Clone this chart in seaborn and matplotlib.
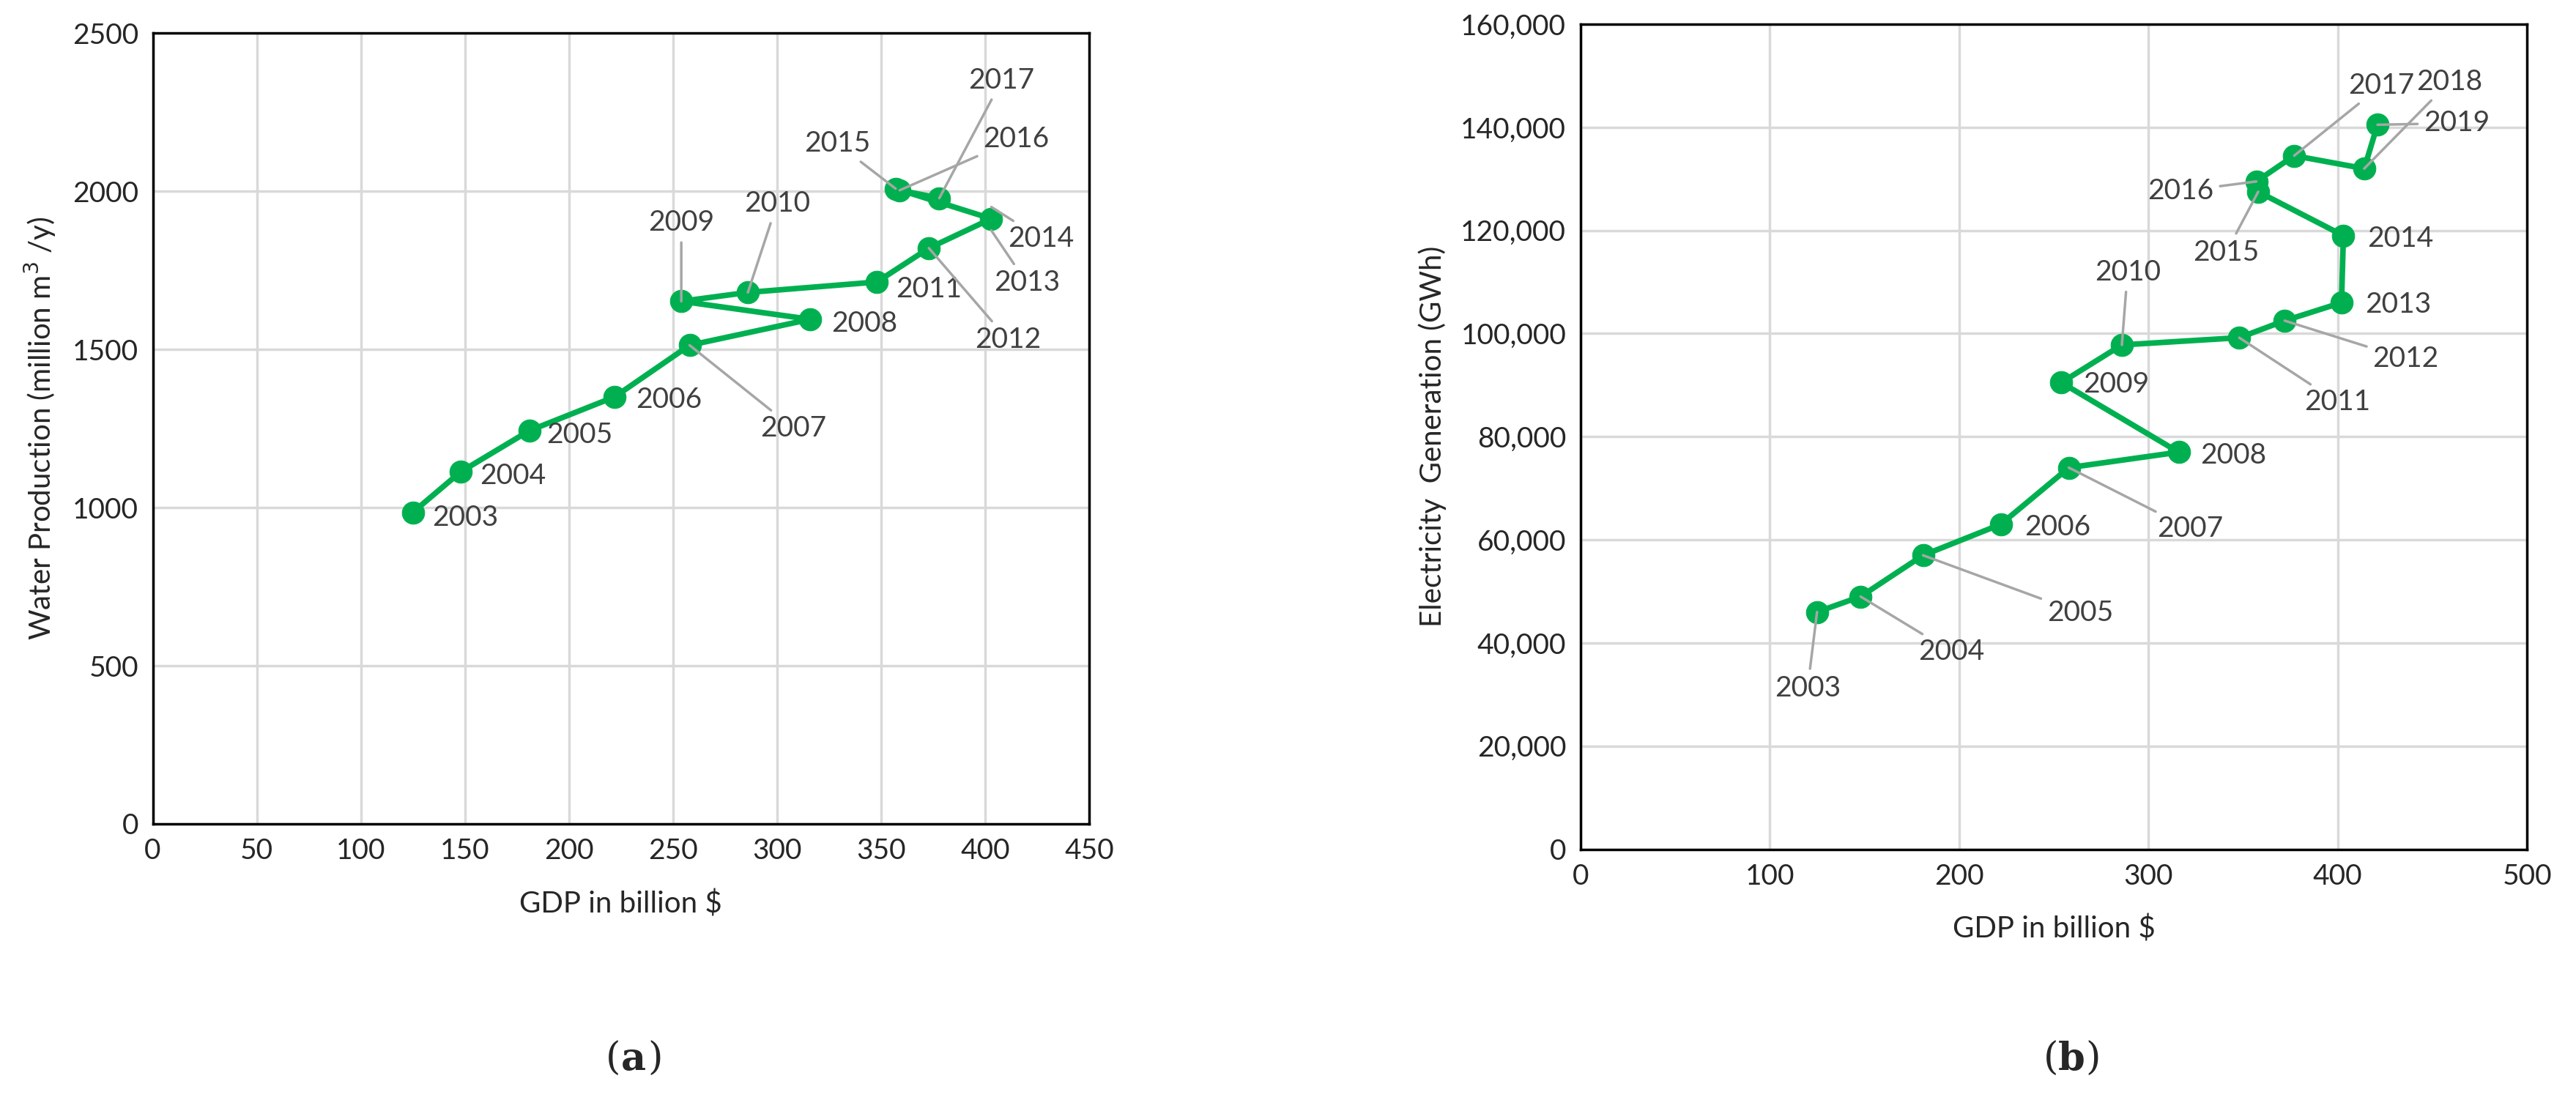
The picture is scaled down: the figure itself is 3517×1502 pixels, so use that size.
import matplotlib
matplotlib.use('Agg')
import seaborn as sns
import matplotlib.pyplot as plt
from matplotlib.ticker import FuncFormatter

sns.set_style('white')
plt.rcParams['font.family'] = ['Lato', 'DejaVu Sans']

GREEN = '#00B050'
LEADER = '#A6A6A6'

# panel (a): water production vs GDP
years_a = list(range(2003, 2018))
gdp_a = [125, 148, 181, 222, 258, 316, 254, 286, 348, 373, 403, 403, 357, 359, 378]
water = [985, 1113, 1243, 1350, 1513, 1595, 1652, 1680, 1713, 1820, 1876, 1950, 2008, 2003, 1978]
# label text positions (data coords) and whether a leader line is drawn
lab_a = [(150, 967, 0), (173, 1100, 0), (205, 1230, 0), (248, 1340, 0), (308, 1250, 1),
         (342, 1580, 0), (254, 1900, 1), (300, 1960, 1), (373, 1690, 0), (411, 1530, 1),
         (420, 1710, 1), (427, 1850, 1), (329, 2150, 1), (415, 2165, 1), (408, 2350, 1)]

# panel (b): electricity generation vs GDP
years_b = list(range(2003, 2020))
gdp_b = [125, 148, 181, 222, 258, 316, 254, 286, 348, 372, 402, 403, 358, 357, 377, 414, 421]
elec = [46000, 49000, 57000, 63000, 74000, 77000, 90500, 97800, 99200, 102500, 106000,
        119000, 127500, 129500, 134500, 132000, 140500]
lab_b = [(120, 31200, 1), (196, 38300, 1), (264, 45800, 1), (252, 62500, 0), (322, 62100, 1),
         (345, 76400, 0), (283, 90100, 0), (289, 111900, 1), (400, 86700, 1), (436, 95100, 1),
         (432, 105600, 0), (433, 118400, 0), (341, 115700, 1), (317, 127600, 1), (423, 148100, 1),
         (459, 148800, 1), (463, 140800, 1)]

fig = plt.figure(figsize=(35.17, 15.02), dpi=100)
ax1 = fig.add_axes([0.0593, 0.251, 0.3635, 0.719])
ax2 = fig.add_axes([0.6135, 0.228, 0.3675, 0.750])


def draw(ax, x, y, years, labels):
    sns.lineplot(x=x, y=y, ax=ax, sort=False, color=GREEN, linewidth=5.5,
                 marker='o', markersize=22, markeredgecolor=GREEN, zorder=3)
    for xi, yi, yr, (tx, ty, line) in zip(x, y, years, labels):
        props = dict(arrowstyle='-', color=LEADER, lw=2.5, shrinkA=4, shrinkB=0) if line else None
        ax.annotate(str(yr), xy=(xi, yi), xytext=(tx, ty), ha='center', va='center',
                    fontsize=28, color='#404040', arrowprops=props, zorder=4)
    ax.grid(True, color='#D9D9D9', linewidth=2.5)
    ax.set_axisbelow(True)
    for s in ax.spines.values():
        s.set_color('black')
        s.set_linewidth(2.5)
    ax.tick_params(length=0, labelsize=28, pad=14)
    ax.set_xlabel('GDP in billion $', fontsize=29, labelpad=25)


draw(ax1, gdp_a, water, years_a, lab_a)
ax1.set_xlim(0, 450)
ax1.set_ylim(0, 2500)
ax1.set_xticks(range(0, 451, 50))
ax1.set_yticks(range(0, 2501, 500))
ax1.set_ylabel('Water Production (million m$^3$ /y)', fontsize=29, labelpad=14)

draw(ax2, gdp_b, elec, years_b, lab_b)
ax2.set_xlim(0, 500)
ax2.set_ylim(0, 160000)
ax2.set_xticks(range(0, 501, 100))
ax2.set_yticks(range(0, 160001, 20000))
ax2.yaxis.set_major_formatter(FuncFormatter(lambda v, p: f'{int(v):,}'))
ax2.set_ylabel('Electricity  Generation (GWh)', fontsize=29, labelpad=14)

for xpos, t in [(0.241, 'a'), (0.799, 'b')]:
    fig.text(xpos, 0.037, '(', family='DejaVu Serif', fontsize=38, ha='right', va='center')
    fig.text(xpos, 0.037, t, family='DejaVu Serif', fontsize=38, fontweight='bold', ha='left', va='center')
    fig.text(xpos + 0.0105, 0.037, ')', family='DejaVu Serif', fontsize=38, ha='left', va='center')

fig.savefig('out.png', dpi=100)
